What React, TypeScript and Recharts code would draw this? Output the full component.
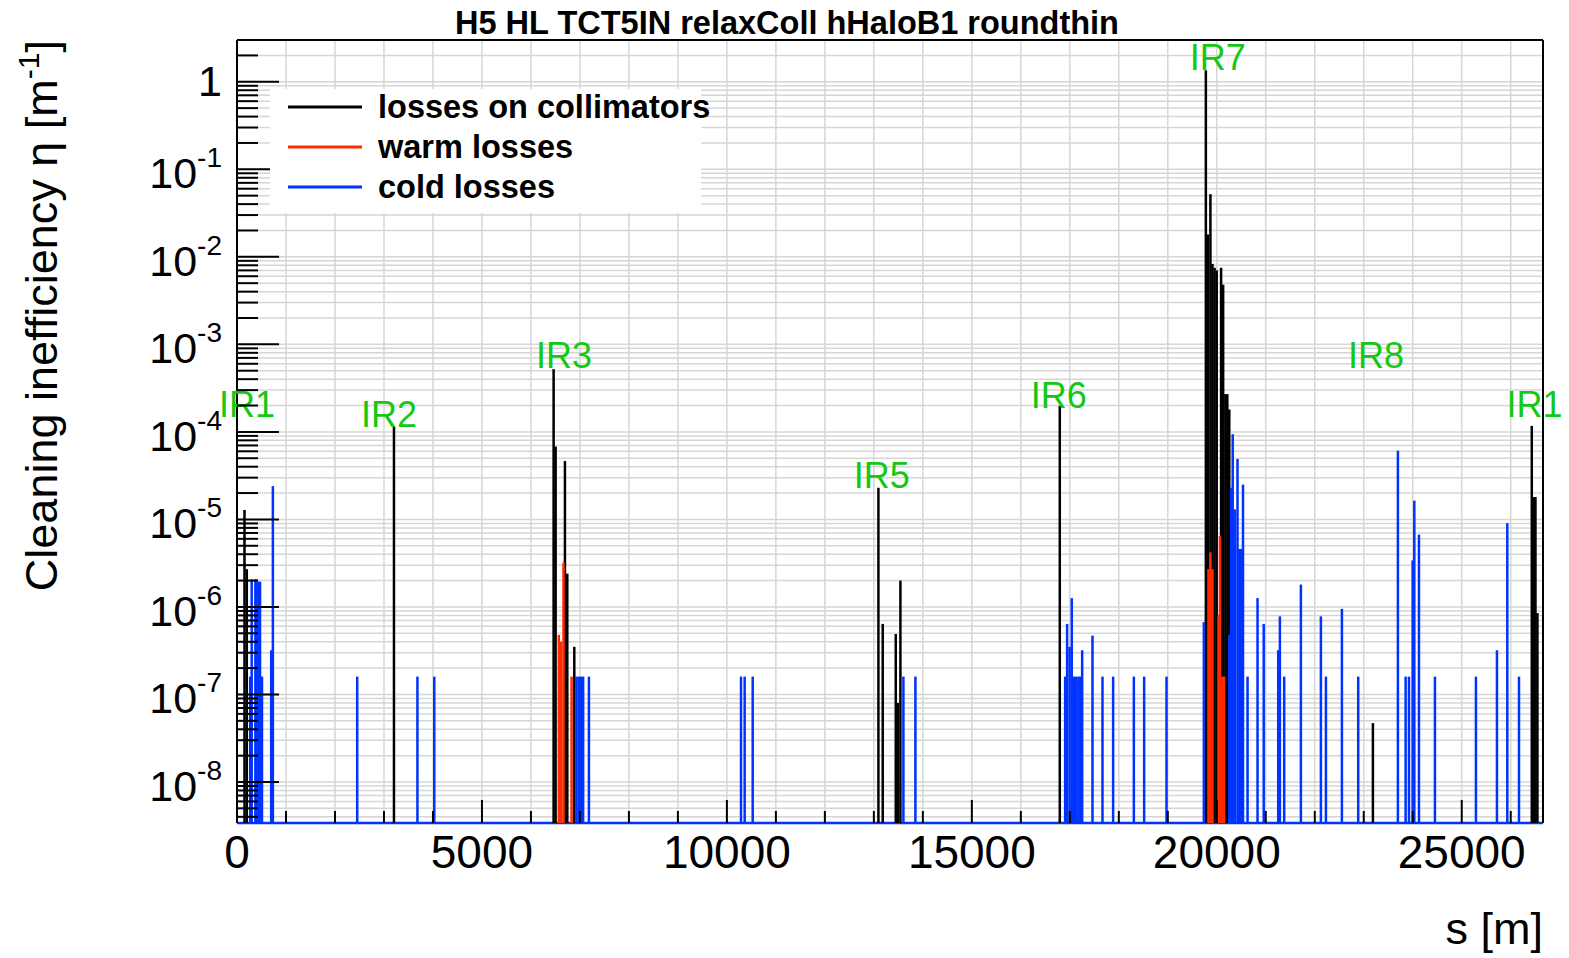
import React from 'react';
import { ComposedChart, Scatter, XAxis, YAxis, CartesianGrid, Legend } from 'recharts';

// page / plot layout (px)
const CHART_W = 1569;
const CHART_H = 958;
const Y_AXIS_W = 237;
const Y_AXIS_RIGHT_W = 26;
const X_AXIS_TOP_H = 40;
const X_AXIS_H = 135;
const PLOT_BOTTOM = CHART_H - X_AXIS_H;
const SPIKE_W = 2.5;

const FONT = '"Liberation Sans", Arial, Helvetica, sans-serif';
const GREEN = '#14c814';

// axis ranges
const S_MAX = 26659;
const ETA_MIN = 3.4e-9;
const ETA_MAX = 3;

const S_TICKS = [
  0, 1000, 2000, 3000, 4000, 5000, 6000, 7000, 8000, 9000, 10000, 11000, 12000, 13000,
  14000, 15000, 16000, 17000, 18000, 19000, 20000, 21000, 22000, 23000, 24000, 25000, 26000,
];
const S_LABELED = [0, 5000, 10000, 15000, 20000, 25000];
const DECADES = [-9, -8, -7, -6, -5, -4, -3, -2, -1, 0];
const MANTISSAS = [1, 2, 3, 4, 5, 6, 7, 8, 9];
const ETA_TICKS = DECADES.flatMap((d) => MANTISSAS.map((m) => m * Math.pow(10, d))).filter(
  (v) => v >= ETA_MIN && v <= ETA_MAX
);

// [s (m), eta (1/m)]
const COLLIMATOR_LOSSES: [number, number][] = [
  [153, 1.28e-5], [200, 2.7e-6],
  [3204, 1.15e-4],
  [6463, 5.2e-4], [6504, 6.8e-5], [6694, 4.65e-5], [6742, 2.4e-6], [6885, 3.5e-7],
  [13093, 2.3e-5], [13181, 6.4e-7], [13447, 4.9e-7], [13490, 8e-8], [13542, 2.0e-6],
  [16795, 1.98e-4],
  [19777, 1.35], [19818, 0.018], [19870, 0.052], [19912, 0.0083], [19955, 0.0075],
  [19998, 0.007], [20045, 8e-7], [20088, 0.0075], [20130, 0.0048], [20175, 2.7e-4],
  [20215, 2.7e-4], [20255, 1.8e-4],
  [23187, 4.7e-8],
  [26430, 1.17e-4], [26470, 1.8e-5], [26505, 1.8e-5], [26545, 8.5e-7],
];

const WARM_LOSSES: [number, number][] = [
  [6570, 4.8e-7], [6615, 4.0e-7], [6665, 3.2e-6], [6830, 1.6e-7],
  [19830, 2.7e-6], [19870, 4.2e-6], [19910, 2.7e-6],
  [20035, 8e-7], [20065, 6.5e-6], [20110, 1.6e-7], [20150, 1.6e-7],
];

const COLD_LOSSES: [number, number][] = [
  [270, 1.6e-7], [300, 2.07e-6], [375, 2.07e-6], [400, 2.07e-6], [440, 1.94e-6],
  [470, 1.94e-6], [510, 1.6e-7], [698, 3.2e-7], [732, 2.4e-5],
  [2454, 1.6e-7], [3683, 1.6e-7], [4027, 1.6e-7],
  [6930, 1.6e-7], [6975, 1.6e-7], [7020, 1.6e-7], [7065, 1.6e-7], [7184, 1.6e-7],
  [10288, 1.6e-7], [10363, 1.6e-7], [10527, 1.6e-7],
  [13603, 1.6e-7], [13848, 1.6e-7],
  [16905, 1.6e-7], [16945, 6.4e-7], [16995, 3.5e-7], [17040, 1.26e-6], [17085, 1.6e-7],
  [17130, 1.6e-7], [17175, 1.6e-7], [17215, 1.6e-7], [17252, 3.2e-7], [17463, 4.7e-7],
  [17667, 1.6e-7], [17884, 1.6e-7], [18307, 1.6e-7], [18517, 1.6e-7], [18974, 1.6e-7],
  [19736, 6.7e-7], [20255, 4.8e-7], [20292, 2.3e-5], [20325, 9.4e-5], [20370, 1.3e-5],
  [20423, 4.9e-5], [20460, 4.6e-6], [20495, 4.6e-6], [20535, 2.5e-5], [20628, 1.6e-7],
  [20832, 1.26e-6], [20958, 6.4e-7], [21254, 3.2e-7], [21288, 7.8e-7], [21376, 1.6e-7],
  [21717, 1.8e-6], [22125, 7.8e-7], [22228, 1.6e-7], [22554, 9.5e-7], [22887, 1.6e-7],
  [23697, 6.1e-5], [23855, 1.6e-7], [23923, 1.6e-7], [23998, 3.4e-6], [24032, 1.64e-5],
  [24127, 6.7e-6], [24453, 1.6e-7], [25290, 1.6e-7], [25719, 3.2e-7], [25930, 9.05e-6],
  [26169, 1.6e-7],
];

// interaction region labels, placed at the local maximum
const IR_NAMES = ['IR1', 'IR2', 'IR3', 'IR5', 'IR6', 'IR7', 'IR8', 'IR1'];
const IR_S = [204, 3103, 6677, 13161, 16775, 20021, 23248, 26486];
const IR_ETA = [1.48e-4, 1.14e-4, 5.36e-4, 2.29e-5, 1.87e-4, 1.35, 5.36e-4, 1.48e-4];

const SERIES = [
  { name: 'losses on collimators', color: '#000000', values: COLLIMATOR_LOSSES },
  { name: 'warm losses', color: '#ff2a00', values: WARM_LOSSES },
  { name: 'cold losses', color: '#0033ff', values: COLD_LOSSES },
];

const toRows = (vals: [number, number][]) => vals.map(([s, eta]) => ({ s, eta }));
const IR_ROWS = IR_NAMES.map((name, i) => ({ name, s: IR_S[i], eta: IR_ETA[i] }));

const isDecade = (v: number) => {
  const e = Math.round(Math.log10(v));
  return Math.abs(v / Math.pow(10, e) - 1) < 1e-6;
};

function spikeShape(color: string) {
  return (props: any) => {
    const { cx, cy } = props;
    if (cx == null || cy == null) return <g />;
    return (
      <rect x={cx - SPIKE_W / 2} y={cy} width={SPIKE_W} height={Math.max(0, PLOT_BOTTOM - cy)} fill={color} />
    );
  };
}

function irLabel(props: any) {
  const { cx, cy, payload } = props;
  return (
    <text x={cx} y={cy} textAnchor="middle" fontSize={36} fill={GREEN} fontFamily={FONT}>
      {payload.name}
    </text>
  );
}

function EtaLabel({ x, y, v }: { x: number; y: number; v: number }) {
  const e = Math.round(Math.log10(v));
  if (e === 0) {
    return (
      <text x={x} y={y + 14} textAnchor="end" fontSize={43} fontFamily={FONT} fill="#000">
        1
      </text>
    );
  }
  return (
    <text x={x} y={y + 19} textAnchor="end" fontSize={43} fontFamily={FONT} fill="#000">
      10
      <tspan dy={-21} fontSize={28}>
        {String(e)}
      </tspan>
    </text>
  );
}

function LeftTick(props: any) {
  const { x, y, payload } = props;
  const major = isDecade(payload.value);
  return (
    <g>
      <line x1={x} y1={y} x2={x + (major ? 42 : 21)} y2={y} stroke="#000" strokeWidth={2} />
      {major && <EtaLabel x={x - 15} y={y} v={payload.value} />}
    </g>
  );
}

function RightTick(props: any) {
  const { x, y, payload } = props;
  const major = isDecade(payload.value);
  return <line x1={x} y1={y} x2={x - (major ? 41 : 21)} y2={y} stroke="#000" strokeWidth={2} />;
}

function BottomTick(props: any) {
  const { x, y, payload } = props;
  const major = payload.value % 5000 === 0;
  return (
    <g>
      <line x1={x} y1={y} x2={x} y2={y - (major ? 23 : 12)} stroke="#000" strokeWidth={2} />
      {S_LABELED.includes(payload.value) && (
        <text x={x} y={y + 45} textAnchor="middle" fontSize={46} fontFamily={FONT} fill="#000">
          {payload.value}
        </text>
      )}
    </g>
  );
}

function TopTick(props: any) {
  const { x, y, payload } = props;
  const major = payload.value % 5000 === 0;
  return <line x1={x} y1={y} x2={x} y2={y + (major ? 23 : 13)} stroke="#000" strokeWidth={2} />;
}

function LossLegend() {
  return (
    <svg width={450} height={124} style={{ display: 'block', overflow: 'visible' }}>
      <rect x={0} y={0} width={431} height={124} fill="#fff" />
      {SERIES.map((item, i) => (
        <g key={item.name}>
          <line x1={18} x2={92} y1={18 + i * 40} y2={18 + i * 40} stroke={item.color} strokeWidth={3} />
          <text x={108} y={29 + i * 40} fontSize={32.5} fontWeight="bold" fontFamily={FONT} fill="#000">
            {item.name}
          </text>
        </g>
      ))}
    </svg>
  );
}

export default function App() {
  return (
    <div style={{ position: 'absolute', left: 0, top: 0, width: CHART_W, height: CHART_H, background: '#fff' }}>
      <ComposedChart width={CHART_W} height={CHART_H} margin={{ top: 0, right: 0, bottom: 0, left: 0 }}>
        <CartesianGrid stroke="#d6d6d6" strokeWidth={1.5} />
        <XAxis
          dataKey="s"
          type="number"
          domain={[0, S_MAX]}
          ticks={S_TICKS}
          height={X_AXIS_H}
          tickSize={0}
          tickMargin={0}
          tickLine={false}
          tick={BottomTick}
          axisLine={{ stroke: '#0033ff', strokeWidth: 2.5 }}
          interval={0}
        />
        <XAxis
          xAxisId="top"
          orientation="top"
          type="number"
          domain={[0, S_MAX]}
          ticks={S_TICKS}
          height={X_AXIS_TOP_H}
          tickSize={0}
          tickMargin={0}
          tickLine={false}
          tick={TopTick}
          axisLine={{ stroke: '#000', strokeWidth: 2 }}
          interval={0}
        />
        <YAxis
          dataKey="eta"
          type="number"
          scale="log"
          domain={[ETA_MIN, ETA_MAX]}
          ticks={ETA_TICKS}
          width={Y_AXIS_W}
          tickSize={0}
          tickMargin={0}
          tickLine={false}
          tick={LeftTick}
          axisLine={{ stroke: '#000', strokeWidth: 2 }}
          interval={0}
        />
        <YAxis
          yAxisId="right"
          orientation="right"
          type="number"
          scale="log"
          domain={[ETA_MIN, ETA_MAX]}
          ticks={ETA_TICKS}
          width={Y_AXIS_RIGHT_W}
          tickSize={0}
          tickMargin={0}
          tickLine={false}
          tick={RightTick}
          axisLine={{ stroke: '#000', strokeWidth: 2 }}
          interval={0}
        />
        {SERIES.map((item) => (
          <Scatter
            key={item.name}
            name={item.name}
            data={toRows(item.values)}
            fill={item.color}
            shape={spikeShape(item.color)}
            isAnimationActive={false}
          />
        ))}
        <Scatter name="IR" data={IR_ROWS} shape={irLabel} legendType="none" isAnimationActive={false} />
        <Legend
          layout="vertical"
          align="center"
          verticalAlign="middle"
          wrapperStyle={{ left: 270, top: 89, width: 450, height: 124 }}
          content={() => <LossLegend />}
        />
      </ComposedChart>
      <svg
        width={CHART_W}
        height={CHART_H}
        style={{ position: 'absolute', left: 0, top: 0, pointerEvents: 'none' }}
        fontFamily={FONT}
      >
        <text x={787} y={34} textAnchor="middle" fontSize={32.5} fontWeight="bold" fill="#000">
          H5 HL TCT5IN relaxColl hHaloB1 roundthin
        </text>
        <text transform="translate(57, 40) rotate(-90)" textAnchor="end" fontSize={45} fill="#000">
          Cleaning inefficiency η [m
          <tspan dy={-18} fontSize={30}>
            -1
          </tspan>
          <tspan dy={18}>]</tspan>
        </text>
        <text x={1543} y={944} textAnchor="end" fontSize={45} fill="#000">
          s [m]
        </text>
      </svg>
    </div>
  );
}
